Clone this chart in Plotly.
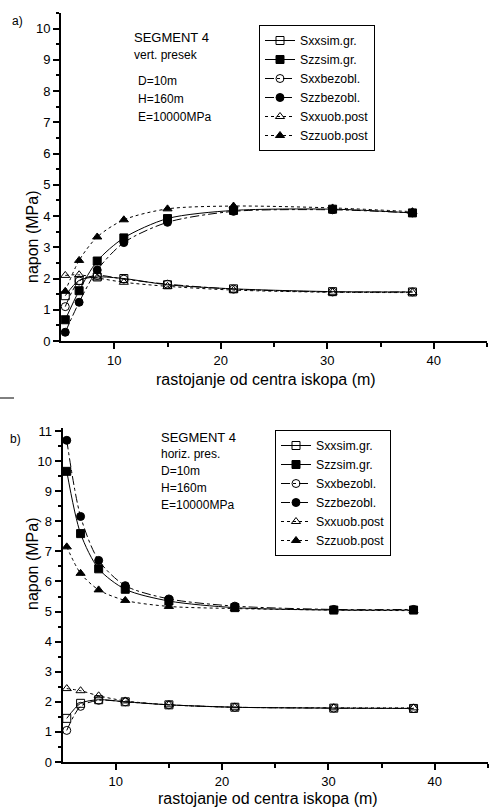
import plotly.graph_objects as go

# distance from centre of excavation (m)
x_dist = [5.4, 6.7, 8.4, 10.9, 15.0, 21.2, 30.5, 38.0]

series_names = ["Sxxsim.gr.", "Szzsim.gr.", "Sxxbezobl.", "Szzbezobl.", "Sxxuob.post", "Szzuob.post"]

# a) vertical section
a_sxx_sim = [1.45, 1.94, 2.05, 2.00, 1.80, 1.67, 1.58, 1.57]
a_szz_sim = [0.68, 1.61, 2.56, 3.30, 3.92, 4.18, 4.22, 4.10]
a_sxx_bez = [1.10, 1.92, 2.10, 1.98, 1.82, 1.66, 1.57, 1.57]
a_szz_bez = [0.28, 1.24, 2.27, 3.15, 3.80, 4.15, 4.20, 4.10]
a_sxx_uob = [2.10, 2.12, 2.02, 1.88, 1.75, 1.63, 1.56, 1.55]
a_szz_uob = [1.59, 2.58, 3.33, 3.88, 4.23, 4.32, 4.26, 4.14]

# b) horizontal section
b_sxx_sim = [1.45, 1.95, 2.07, 2.00, 1.90, 1.82, 1.79, 1.78]
b_szz_sim = [9.66, 7.59, 6.42, 5.74, 5.35, 5.13, 5.05, 5.05]
b_sxx_bez = [1.05, 1.85, 2.05, 2.00, 1.90, 1.82, 1.79, 1.78]
b_szz_bez = [10.69, 8.16, 6.70, 5.86, 5.42, 5.18, 5.07, 5.07]
b_sxx_uob = [2.44, 2.37, 2.20, 2.03, 1.90, 1.82, 1.80, 1.80]
b_szz_uob = [7.15, 6.27, 5.72, 5.37, 5.17, 5.10, 5.05, 5.03]

y_ticks_a = list(range(0, 11))
y_ticks_b = list(range(0, 12))
x_ticks = [10, 20, 30, 40]

symbols = ["square-open", "square", "circle-open", "circle", "triangle-up-open", "triangle-up"]
dashes = ["solid", "solid", "dashdot", "dashdot", "dot", "dot"]

FONT = "Arial, Liberation Sans, Helvetica, sans-serif"
W, H = 489, 811

fig = go.Figure()

for data, xa, ya, lg in [
    ([a_sxx_sim, a_szz_sim, a_sxx_bez, a_szz_bez, a_sxx_uob, a_szz_uob], "x", "y", "legend"),
    ([b_sxx_sim, b_szz_sim, b_sxx_bez, b_szz_bez, b_sxx_uob, b_szz_uob], "x2", "y2", "legend2"),
]:
    for name, ys, sym, dsh in zip(series_names, data, symbols, dashes):
        fig.add_trace(go.Scatter(
            x=x_dist, y=ys, name=name, mode="lines+markers",
            line=dict(color="black", width=1, dash=dsh, shape="spline", smoothing=0.8),
            marker=dict(symbol=sym, size=8, color="black", line=dict(color="black", width=1)),
            xaxis=xa, yaxis=ya, legend=lg, showlegend=True,
        ))

def px_x(p):
    return p / W

def px_y(p):
    return 1 - p / H

axis_common = dict(
    showline=True, linecolor="black", linewidth=2, showgrid=False, zeroline=False,
    ticks="outside", ticklen=6, tickwidth=1.5, tickcolor="black",
    tickfont=dict(family=FONT, size=13, color="black"), automargin=False,
)

legend_common = dict(
    xanchor="left", yanchor="top", bordercolor="black", borderwidth=1, bgcolor="white",
    font=dict(family=FONT, size=12.3, color="black"), tracegroupgap=0,
    entrywidth=100, entrywidthmode="pixels",
)

fig.update_layout(
    width=W, height=H, margin=dict(l=0, r=0, t=0, b=0),
    paper_bgcolor="white", plot_bgcolor="white",
    font=dict(family=FONT, color="black"),
    xaxis=dict(axis_common, domain=[px_x(61), px_x(487)], range=[5, 45], tickvals=x_ticks,
               minor=dict(tickvals=[15, 25, 35, 45], ticklen=4, ticks="outside", tickcolor="black"),
               anchor="y", title=None),
    yaxis=dict(axis_common, domain=[px_y(341), px_y(13)], range=[0, 10.5], tickvals=y_ticks_a,
               minor=dict(dtick=0.5, ticklen=3, ticks="outside", tickcolor="black"),
               anchor="x", title=None),
    xaxis2=dict(axis_common, domain=[px_x(62.5), px_x(488)], range=[5, 45], tickvals=x_ticks,
                minor=dict(tickvals=[15, 25, 35, 45], ticklen=4, ticks="outside", tickcolor="black"),
                anchor="y2", title=None),
    yaxis2=dict(axis_common, domain=[px_y(762), px_y(428)], range=[0, 11.1], tickvals=y_ticks_b,
                minor=dict(dtick=0.5, ticklen=3, ticks="outside", tickcolor="black"),
                anchor="x2", title=None),
    legend=dict(legend_common, x=px_x(259), y=px_y(25)),
    legend2=dict(legend_common, x=px_x(275), y=px_y(430)),
)

def txt(x, y, s, size=13, xanchor="left"):
    fig.add_annotation(x=px_x(x), y=px_y(y), xref="paper", yref="paper", text=s,
                       showarrow=False, xanchor=xanchor, yanchor="middle",
                       font=dict(family=FONT, size=size, color="black"))

# panel labels
txt(10, 21, "a)", 12)
txt(8, 439, "b)", 12)

# info text
txt(132, 37, "SEGMENT 4", 13)
txt(132, 55, "vert. presek", 12)
txt(136, 81, "D=10m", 12)
txt(136, 99, "H=160m", 12)
txt(136, 117, "E=10000MPa", 12)

txt(159, 437, "SEGMENT 4", 13)
txt(159, 454, "horiz. pres.", 12)
txt(159, 471, "D=10m", 12)
txt(159, 488, "H=160m", 12)
txt(159, 505, "E=10000MPa", 12)

# axis titles
fig.add_annotation(x=px_x(22), y=px_y(188), xref="paper", yref="paper", text="napon (MPa)",
                   showarrow=False, textangle=-90, font=dict(family=FONT, size=16, color="black"))
fig.add_annotation(x=px_x(22), y=px_y(612), xref="paper", yref="paper", text="napon (MPa)",
                   showarrow=False, textangle=-90, font=dict(family=FONT, size=16, color="black"))
txt(266, 379, "rastojanje od centra iskopa (m)", 16, "center")
txt(268, 798, "rastojanje od centra iskopa (m)", 16, "center")

# small scan mark
fig.add_shape(type="line", xref="paper", yref="paper", x0=0, x1=px_x(14), y0=px_y(398), y1=px_y(398),
              line=dict(color="black", width=1))

fig.write_html("out.html")
